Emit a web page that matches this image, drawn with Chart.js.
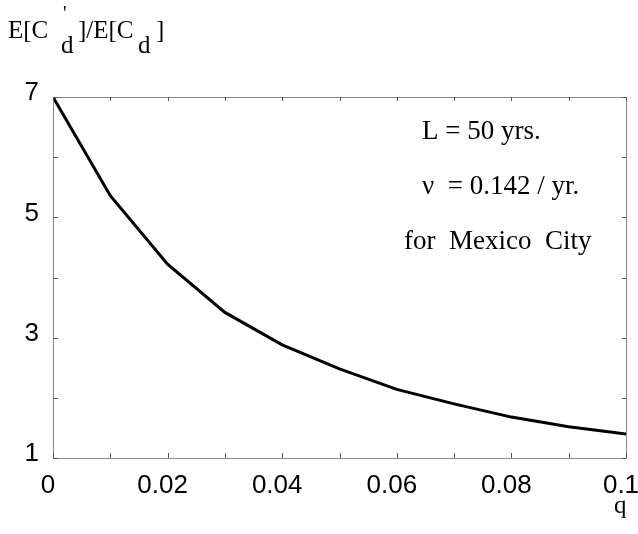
<!DOCTYPE html>
<html>
<head>
<meta charset="utf-8">
<script src="https://cdn.jsdelivr.net/npm/chart.js@4/dist/chart.umd.min.js"></script>
<style>
  html, body { margin: 0; padding: 0; background: #fff; }
  #wrap { width: 638px; height: 534px; }
</style>
</head>
<body>
<div id="wrap"><canvas id="c" width="638" height="534"></canvas></div>
<script>
// ---- data ----
const qValues = [0, 0.01, 0.02, 0.03, 0.04, 0.05, 0.06, 0.07, 0.08, 0.09, 0.10];
const ratioValues = [7.0, 5.36, 4.22, 3.42, 2.88, 2.48, 2.14, 1.90, 1.68, 1.52, 1.40];
const xTickLabels = ['0', '0.02', '0.04', '0.06', '0.08', '0.1'];
const yTickLabels = ['1', '', '3', '', '5', '', '7'];
const annotationLines = ['L = 50 yrs.', '\u03bd  = 0.142 / yr.', 'for  Mexico  City'];

const points = qValues.map((q, i) => ({ x: q, y: ratioValues[i] }));

const frameAndTicks = {
  id: 'frameAndTicks',
  afterDraw(chart) {
    const { ctx, chartArea: a, scales } = chart;
    const xs = scales.x, ys = scales.y;
    ctx.save();
    ctx.strokeStyle = '#8a8a8a';
    ctx.lineWidth = 1;
    ctx.strokeRect(a.left + 0.5, a.top + 0.5, a.right - a.left, a.bottom - a.top);
    ctx.strokeStyle = '#555';
    ctx.beginPath();
    xs.ticks.forEach(t => {
      const px = Math.round(xs.getPixelForValue(t.value)) + 0.5;
      ctx.moveTo(px, a.bottom); ctx.lineTo(px, a.bottom - 5);
      ctx.moveTo(px, a.top); ctx.lineTo(px, a.top + 4);
    });
    ys.ticks.forEach(t => {
      const py = Math.round(ys.getPixelForValue(t.value)) + 0.5;
      ctx.moveTo(a.left, py); ctx.lineTo(a.left + 5, py);
      ctx.moveTo(a.right, py); ctx.lineTo(a.right - 4, py);
    });
    ctx.stroke();

    // annotation text
    ctx.fillStyle = '#000';
    ctx.font = '27px "Liberation Serif", "Times New Roman", serif';
    ctx.textBaseline = 'alphabetic';
    ctx.textAlign = 'left';
    ctx.fillText(annotationLines[0], 422, 139);
    ctx.fillText(annotationLines[1], 422, 194);
    ctx.fillText(annotationLines[2], 404, 249);

    // y axis title E[C'd]/E[Cd]
    ctx.font = '25px "Liberation Serif", "Times New Roman", serif';
    ctx.fillText('E[C', 8, 38);
    ctx.fillText('d', 61, 53);
    ctx.fillText(']/E[C', 78, 38);
    ctx.fillText('d', 138, 53);
    ctx.fillText(']', 156, 38);
    ctx.font = '20px "Liberation Serif", "Times New Roman", serif';
    ctx.fillText("'", 63, 20);

    // x axis title
    ctx.font = '25px "Liberation Serif", "Times New Roman", serif';
    ctx.fillText('q', 614, 513);
    ctx.restore();
  }
};

new Chart(document.getElementById('c'), {
  type: 'line',
  data: {
    datasets: [{
      data: points,
      borderColor: '#000',
      borderWidth: 3,
      pointRadius: 0,
      tension: 0,
      fill: false
    }]
  },
  options: {
    responsive: false,
    animation: false,
    events: [],
    layout: { padding: { left: 0, top: 97, right: 12, bottom: 0 } },
    plugins: { legend: { display: false }, tooltip: { enabled: false }, title: { display: false } },
    scales: {
      x: {
        type: 'linear',
        min: 0, max: 0.1,
        border: { display: false },
        grid: { display: false, drawTicks: false },
        ticks: {
          stepSize: 0.01,
          autoSkip: false,
          maxRotation: 0,
          padding: 12,
          labelOffset: -5,
          color: '#000',
          font: { family: '"Liberation Sans", Arial, sans-serif', size: 26 },
          callback: (v, i) => (i % 2 === 0 ? xTickLabels[i / 2] : '')
        },
        afterFit(s) { s.height = 76; s.paddingLeft = 0; s.paddingRight = 0; }
      },
      y: {
        min: 1, max: 7,
        border: { display: false },
        grid: { display: false, drawTicks: false },
        ticks: {
          stepSize: 1,
          autoSkip: false,
          padding: 14,
          labelOffset: -4,
          color: '#000',
          font: { family: '"Liberation Sans", Arial, sans-serif', size: 26 },
          callback: (v, i) => yTickLabels[i]
        },
        afterFit(s) { s.width = 53; s.paddingTop = 0; s.paddingBottom = 0; }
      }
    }
  },
  plugins: [frameAndTicks]
});
</script>
</body>
</html>
